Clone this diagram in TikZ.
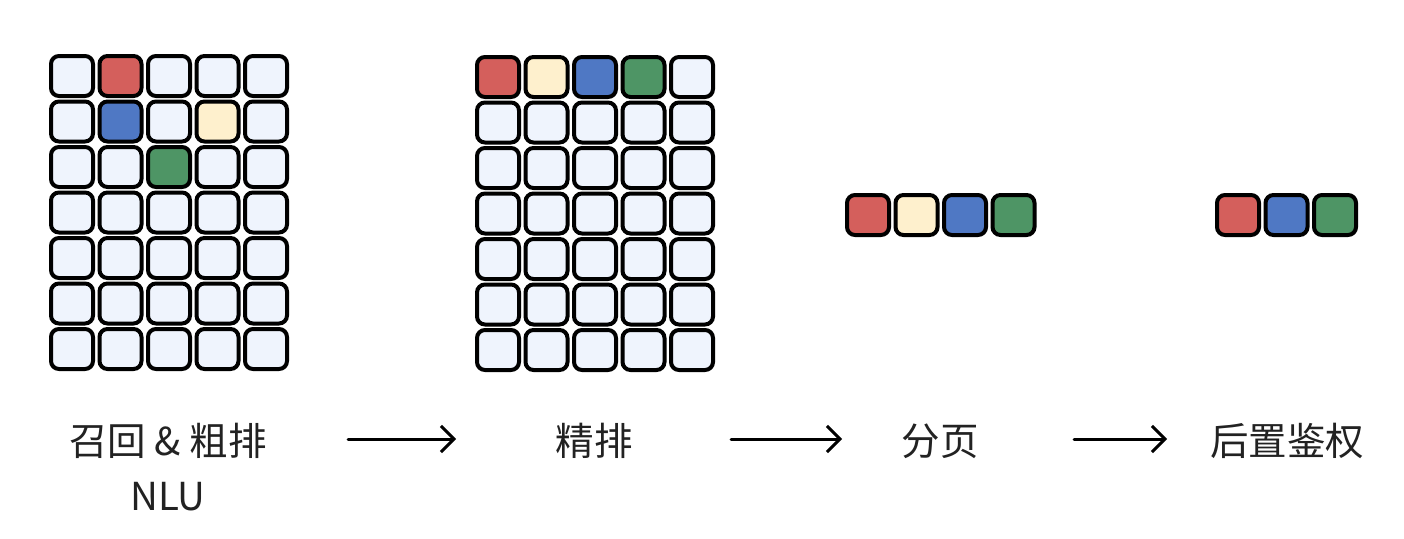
\documentclass[tikz,border=0pt]{standalone}
\usepackage{fontspec}
\newfontfamily\cjk{Noto Sans CJK SC}
\usetikzlibrary{arrows.meta}
\definecolor{cellbase}{HTML}{EFF4FD}
\definecolor{cellred}{HTML}{D45F5C}
\definecolor{cellyellow}{HTML}{FEF0CD}
\definecolor{cellblue}{HTML}{4F78C4}
\definecolor{cellgreen}{HTML}{4E9565}
\definecolor{labelgray}{HTML}{222222}
\begin{document}
\begin{tikzpicture}[x=1pt, y=-1pt,
    cell/.style={rectangle, rounded corners=8pt, draw=black, fill=cellbase,
        minimum width=42pt, minimum height=40pt, inner sep=0pt, line width=4pt},
    stage/.style={font=\cjk\fontsize{38.5}{44}\selectfont, text=labelgray, inner sep=0pt},
    flow/.style={line width=3pt, line cap=round, -{Straight Barb[length=13pt, width=26pt, line width=3pt]}},
]
  \useasboundingbox (0,0) rectangle (1404,538);
  % recall & coarse ranking grid
  \foreach \row/\ca/\cb/\cc/\cd/\ce in {
      0/cellbase/cellred/cellbase/cellbase/cellbase,
      1/cellbase/cellblue/cellbase/cellyellow/cellbase,
      2/cellbase/cellbase/cellgreen/cellbase/cellbase,
      3/cellbase/cellbase/cellbase/cellbase/cellbase,
      4/cellbase/cellbase/cellbase/cellbase/cellbase,
      5/cellbase/cellbase/cellbase/cellbase/cellbase,
      6/cellbase/cellbase/cellbase/cellbase/cellbase}
    \foreach \col/\c in {0/\ca, 1/\cb, 2/\cc, 3/\cd, 4/\ce}
      \node[cell, fill=\c] (recall_\row_\col) at (72+48.5*\col, 76+45.5*\row) {};
  % fine ranking grid
  \foreach \row/\ca/\cb/\cc/\cd/\ce in {
      0/cellred/cellyellow/cellblue/cellgreen/cellbase,
      1/cellbase/cellbase/cellbase/cellbase/cellbase,
      2/cellbase/cellbase/cellbase/cellbase/cellbase,
      3/cellbase/cellbase/cellbase/cellbase/cellbase,
      4/cellbase/cellbase/cellbase/cellbase/cellbase,
      5/cellbase/cellbase/cellbase/cellbase/cellbase,
      6/cellbase/cellbase/cellbase/cellbase/cellbase}
    \foreach \col/\c in {0/\ca, 1/\cb, 2/\cc, 3/\cd, 4/\ce}
      \node[cell, fill=\c] (rank_\row_\col) at (498+48.5*\col, 77+45.5*\row) {};
  % paging
  \node[cell, fill=cellred] (page_0) at (868, 215) {};
  \node[cell, fill=cellyellow] (page_1) at (916.5, 215) {};
  \node[cell, fill=cellblue] (page_2) at (965, 215) {};
  \node[cell, fill=cellgreen] (page_3) at (1013.5, 215) {};
  % post auth
  \node[cell, fill=cellred] (auth_0) at (1238, 215) {};
  \node[cell, fill=cellblue] (auth_1) at (1286.5, 215) {};
  \node[cell, fill=cellgreen] (auth_2) at (1335, 215) {};
  % stage labels
  \node[stage] (lbl_recall) at (168, 441) {召回 \& 粗排};
  \node[stage] (lbl_nlu) at (168, 497) {NLU};
  \node[stage] (lbl_rank) at (594, 441) {精排};
  \node[stage] (lbl_page) at (940, 441) {分页};
  \node[stage] (lbl_auth) at (1287, 441) {后置鉴权};
  \coordinate (f_0a) at (348, 439);
  \coordinate (f_0b) at (456, 439);
  \coordinate (f_1a) at (731, 439);
  \coordinate (f_1b) at (842, 439);
  \coordinate (f_2a) at (1074, 439);
  \coordinate (f_2b) at (1167, 439);
  \draw[flow] (f_0a) -- (f_0b);
  \draw[flow] (f_1a) -- (f_1b);
  \draw[flow] (f_2a) -- (f_2b);
\end{tikzpicture}
\end{document}
